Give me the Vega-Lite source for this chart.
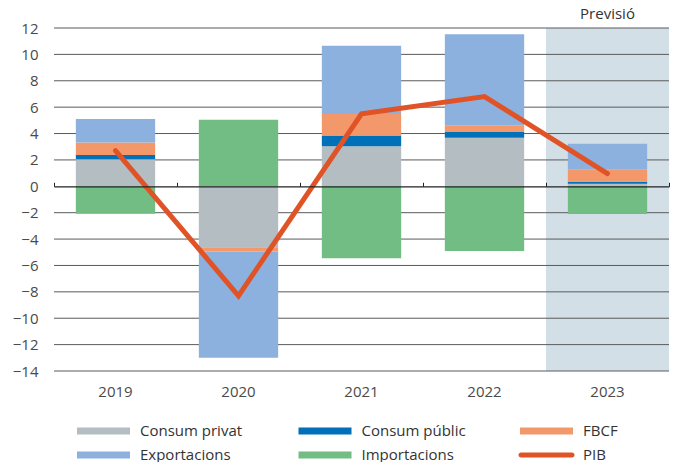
{
  "$schema": "https://vega.github.io/schema/vega-lite/v6.json",
  "width": 615,
  "height": 343,
  "autosize": {"type": "none"},
  "padding": {"left": 54, "top": 28, "right": 6, "bottom": 91},
  "config": {
    "view": {"stroke": null},
    "font": "Open Sans",
    "axis": {"labelFont": "Open Sans", "labelFontSize": 15, "labelColor": "#4a4a4a", "labelOverlap": false},
    "axisY": {"labelOverlap": false, "labelBound": false, "domain": false, "ticks": false, "grid": false, "labelPadding": 16, "title": null, "values": [-14, -12, -10, -8, -6, -4, -2, 0, 2, 4, 6, 8, 10, 12]},
    "legend": {"labelFont": "Open Sans", "labelFontSize": 15, "labelColor": "#333333"}
  },
  "datasets": {
    "components": [
      {"any": "2019", "serie": "Consum privat", "valor": 2.05},
      {"any": "2019", "serie": "Consum públic", "valor": 0.33},
      {"any": "2019", "serie": "FBCF", "valor": 0.94},
      {"any": "2019", "serie": "Exportacions", "valor": 1.78},
      {"any": "2019", "serie": "Importacions", "valor": -2.08},
      {"any": "2020", "serie": "Consum privat", "valor": -4.62},
      {"any": "2020", "serie": "Consum públic", "valor": 0},
      {"any": "2020", "serie": "FBCF", "valor": -0.33},
      {"any": "2020", "serie": "Exportacions", "valor": -8.04},
      {"any": "2020", "serie": "Importacions", "valor": 5.05},
      {"any": "2021", "serie": "Consum privat", "valor": 3.04},
      {"any": "2021", "serie": "Consum públic", "valor": 0.82},
      {"any": "2021", "serie": "FBCF", "valor": 1.62},
      {"any": "2021", "serie": "Exportacions", "valor": 5.17},
      {"any": "2021", "serie": "Importacions", "valor": -5.45},
      {"any": "2022", "serie": "Consum privat", "valor": 3.68},
      {"any": "2022", "serie": "Consum públic", "valor": 0.43},
      {"any": "2022", "serie": "FBCF", "valor": 0.51},
      {"any": "2022", "serie": "Exportacions", "valor": 6.9},
      {"any": "2022", "serie": "Importacions", "valor": -4.9},
      {"any": "2023", "serie": "Consum privat", "valor": 0.2},
      {"any": "2023", "serie": "Consum públic", "valor": 0.15},
      {"any": "2023", "serie": "FBCF", "valor": 0.92},
      {"any": "2023", "serie": "Exportacions", "valor": 1.95},
      {"any": "2023", "serie": "Importacions", "valor": -2.1}
    ],
    "pib": [
      {"any": "2019", "valor": 2.7},
      {"any": "2020", "valor": -8.3},
      {"any": "2021", "valor": 5.5},
      {"any": "2022", "valor": 6.8},
      {"any": "2023", "valor": 0.97}
    ],
    "grid": [
      {"v": -14}, {"v": -12}, {"v": -10}, {"v": -8}, {"v": -6}, {"v": -4}, {"v": -2},
      {"v": 2}, {"v": 4}, {"v": 6}, {"v": 8}, {"v": 10}, {"v": 12}
    ],
    "previsio": [{"any": "2023", "text": "Previsió"}]
  },
  "layer": [
    {
      "data": {"name": "previsio"},
      "mark": {"type": "bar", "color": "#d3dfe7", "width": {"band": 1}},
      "encoding": {
        "x": {"field": "any", "type": "nominal", "scale": {"domain": ["2019", "2020", "2021", "2022", "2023"], "paddingInner": 0, "paddingOuter": 0},
              "axis": {"orient": "bottom", "title": null, "domain": false, "ticks": false, "labelPadding": 13, "labelAngle": 0}},
        "y": {"datum": -14, "type": "quantitative", "scale": {"domain": [-14, 12], "nice": false, "zero": false}},
        "y2": {"datum": 12}
      }
    },
    {
      "data": {"name": "grid"},
      "mark": {"type": "rule", "color": "#5a5a5a", "strokeWidth": 1},
      "encoding": {"y": {"field": "v", "type": "quantitative"}}
    },
    {
      "data": {"name": "components"},
      "transform": [
        {"calculate": "indexof(['Consum privat','Consum públic','FBCF','Exportacions','Importacions'], datum.serie)", "as": "ordre"}
      ],
      "mark": {"type": "bar", "width": {"band": 0.645}},
      "encoding": {
        "x": {"field": "any", "type": "nominal", "axis": null},
        "y": {"field": "valor", "type": "quantitative", "stack": "zero"},
        "order": {"field": "ordre", "type": "quantitative", "sort": "ascending"},
        "color": {
          "field": "serie", "type": "nominal",
          "scale": {
            "domain": ["Consum privat", "Consum públic", "FBCF", "Exportacions", "Importacions", "PIB"],
            "range": ["#b3bdc2", "#0070b8", "#f3986b", "#8cb1de", "#71bd84", "#e05327"]
          },
          "legend": {
            "title": null, "orient": "none", "legendX": 39.5, "legendY": 393, "direction": "horizontal",
            "columns": 3, "columnPadding": 51.5, "rowPadding": 6, "gridAlign": "all",
            "symbolType": "M-2.65,-0.35H2.65V0.35H-2.65Z", "symbolSize": 400, "symbolStrokeWidth": 0,
            "labelOffset": 26.5, "labelLimit": 200, "padding": 0,
            "encode": {"symbols": {"update": {"shape": {"signal": "datum.label === 'PIB' ? 'M-2.55,-0.25H2.55A0.25,0.25,0,0,1,2.55,0.25H-2.55A0.25,0.25,0,0,1,-2.55,-0.25Z' : 'M-2.65,-0.35H2.65V0.35H-2.65Z'"}}}}
          }
        }
      }
    },
    {
      "data": {"name": "pib"},
      "mark": {"type": "line", "strokeWidth": 5, "strokeCap": "round", "strokeJoin": "miter"},
      "encoding": {
        "x": {"field": "any", "type": "nominal",
              "axis": {"orient": "top", "offset": -158.3, "title": null, "labels": false, "ticks": true, "tickSize": 4, "tickBand": "extent", "domain": true, "domainColor": "#222222", "tickColor": "#222222", "domainWidth": 1.2, "zindex": 1}},
        "y": {"field": "valor", "type": "quantitative"},
        "color": {"datum": "PIB"}
      }
    },
    {
      "data": {"name": "previsio"},
      "mark": {"type": "text", "baseline": "bottom", "dy": -6, "fontSize": 15, "color": "#333333", "font": "Open Sans"},
      "encoding": {
        "x": {"field": "any", "type": "nominal", "axis": null},
        "y": {"datum": 12, "type": "quantitative"},
        "text": {"field": "text"}
      }
    }
  ],
  "resolve": {"axis": {"x": "independent"}}
}
